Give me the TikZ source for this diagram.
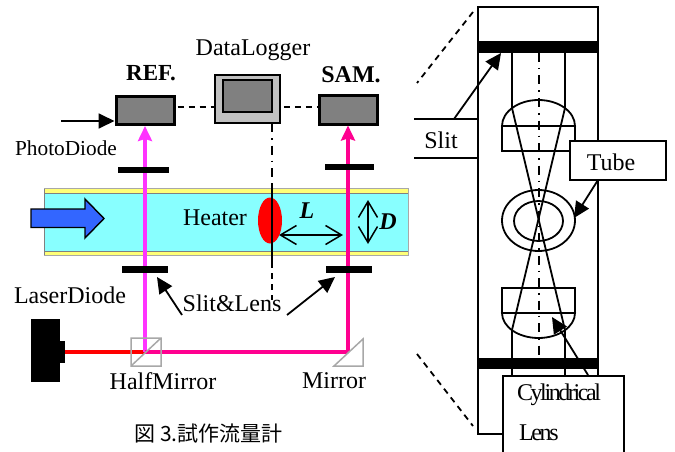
\documentclass[tikz,border=0pt]{standalone}
\usepackage{fontspec}
\setmainfont{Liberation Serif}
\newfontfamily\cjkfont{Noto Sans CJK JP}
\newfontfamily\tightfont[LetterSpace=-10]{Liberation Serif}
\usetikzlibrary{arrows.meta,shapes.geometric}
\definecolor{gray50x}{HTML}{808080}
\definecolor{graylight}{HTML}{C0C0C0}
\definecolor{graymirror}{HTML}{A8A8A8}
\definecolor{tubecyan}{HTML}{88FFFF}
\definecolor{tubewall}{HTML}{FFFF77}
\definecolor{flowblue}{HTML}{3366FF}
\definecolor{beamm}{HTML}{FF33FF}
\definecolor{beamp}{HTML}{FF0090}
\tikzset{
  x=1pt,y=-1pt,
  lbl/.style={inner sep=0pt,font=\fontsize{24}{24}\selectfont},
  lblb/.style={inner sep=0pt,font=\fontsize{24}{24}\selectfont\bfseries},
  lbli/.style={inner sep=0pt,font=\fontsize{24}{24}\selectfont\bfseries\itshape},
  detector/.style={draw=black,line width=3pt,fill=gray50x,inner sep=0pt},
  slitbar/.style={fill=black,draw=none,inner sep=0pt},
  wire/.style={draw=black,line width=1.8pt},
  dashwire/.style={draw=black,line width=1.8pt,dash pattern=on 6pt off 5pt},
  dashdot/.style={draw=black,line width=1.8pt,dash pattern=on 9pt off 6pt on 1.5pt off 6pt},
  pointer/.style={draw=black,line width=1.8pt,-{Triangle[length=16pt,width=15pt]}},
  openarr/.style={draw=black,line width=1.5pt,{Straight Barb[length=16pt,width=19pt]}-{Straight Barb[length=16pt,width=19pt]}},
  callout/.style={draw=black,line width=1.8pt,fill=white,inner sep=0pt},
  optic/.style={draw=graymirror,line width=1.5pt},
  part/.style={draw=black,line width=1.8pt},
  beamtip/.style={-{Stealth[length=15pt,width=14pt,inset=2pt]}},
}
\begin{document}
\begin{tikzpicture}
\useasboundingbox[clip] (0,0) rectangle (675,452);
% tube
\fill[tubewall,draw=graymirror,line width=.8pt] (44,188.5) rectangle (408,255);
\fill[tubecyan] (44,193) rectangle (408,251);
\draw[gray,line width=.8pt] (44,193) -- (408,193) (44,251) -- (408,251) (44,188.5) -- (44,255);
% flow arrow
\draw[black,line width=1.4pt,fill=flowblue] (31,209) -- (85,209) -- (85,199) -- (104,218.5) -- (85,238) -- (85,227.5) -- (31,227.5) -- cycle;
% nodes
\node[detector,minimum width=58pt,minimum height=28pt] (ref) at (145,110.5) {};
\node[detector,minimum width=58pt,minimum height=28pt] (sam) at (348,110) {};
\node[draw=black,line width=1.8pt,fill=graylight,minimum width=65pt,minimum height=48pt,inner sep=0pt] (logger) at (247.5,99) {};
\node[draw=black,line width=1.8pt,fill=gray50x,minimum width=49pt,minimum height=32pt,inner sep=0pt] (screen) at (247.5,96) {};
\coordinate (logfoot) at (272,123);
\coordinate (h1) at (272,183);
\coordinate (h2) at (272,262);
\coordinate (h3) at (272,300);
% heater
\node[draw=none,fill=red,ellipse,minimum width=24pt,minimum height=46pt,inner sep=0pt] (heater) at (270,220.5) {};
\draw[dashwire] (ref.east |- 0,107) ++(2,0) -- (logger.west |- 0,107);
\draw[dashwire] (logger.east |- 0,107) ++(3,0) -- (sam.west |- 0,107);
\draw[dashdot] (logfoot) -- (h1);
\draw[wire] (h1) -- (h2);
\draw[dashwire] (h2) -- (h3);
% beams
\coordinate (hm) at (145,352);
\coordinate (mm) at (348,352);
\coordinate (ld) at (65,352);
\draw[red,line width=3.6pt] (ld) -- (hm);
\draw[beamm,line width=3.2pt,beamtip] (hm) -- (ref.south);
\draw[beamp,line width=3.6pt] (hm) -- (mm);
\draw[beamp,line width=3.2pt,beamtip] (mm) -- (sam.south);
% slits
\node[slitbar,minimum width=51pt,minimum height=6pt] (s1) at (143.5,170) {};
\node[slitbar,minimum width=49pt,minimum height=6pt] (s2) at (349.5,167) {};
\node[slitbar,minimum width=46pt,minimum height=7pt] (s3) at (145,269.5) {};
\node[slitbar,minimum width=46pt,minimum height=7pt] (s4) at (349,269.5) {};
% optics
\draw[optic] (131,338) rectangle (161,366) (131,366) -- (161,338);
\draw[optic] (334,366) -- (363,339) -- (363,366) -- cycle;
% laser
\fill[black] (31,319) rectangle (60,382);
\fill[black] (60,341) rectangle (65,363);
% L D
\coordinate (la) at (279,235);
\coordinate (lb) at (343,235);
\coordinate (da) at (368,200);
\coordinate (db) at (368,244);
\draw[openarr] (la) -- (lb);
\draw[openarr] (da) -- (db);
% labels
\node[lbl] (tdl) at (253,50) {DataLogger};
\node[lblb,font=\fontsize{23}{23}\selectfont\bfseries] (tref) at (151,73) {REF.};
\node[lblb] (tsam) at (351,75) {SAM.};
\node[lbl,font=\fontsize{21.3}{22}\selectfont] (tpd) at (66,148) {PhotoDiode};
\node[lbl] (the) at (215,218) {Heater};
\node[lbli] (tl) at (307,211) {L};
\node[lbli] (td) at (388,222) {D};
\node[lbl] (tsl) at (232,303) {Slit\&Lens};
\node[lbl] (tld) at (70,295) {LaserDiode};
\node[lbl] (thm) at (163,381) {HalfMirror};
\node[lbl] (tm) at (334,381) {Mirror};
\node[inner sep=0pt,font=\fontsize{21}{22}\cjkfont] (cap) at (208.5,434) {図 3.試作流量計};
\coordinate (pd) at (61,121);
\draw[pointer] (pd) -- (ref.west |- pd);
\coordinate (p1) at (182,315);
\coordinate (p2) at (287,315);
\coordinate (p1t) at (157,277);
\coordinate (p2t) at (335,277);
\draw[pointer] (p1) -- (p1t);
\draw[pointer] (p2) -- (p2t);
% right panel
\node[draw=black,line width=1.8pt,minimum width=120pt,minimum height=427pt,inner sep=0pt] (panel) at (538,220.5) {};
\node[slitbar,minimum width=120pt,minimum height=12pt] (bt) at (538,47) {};
\node[slitbar,minimum width=120pt,minimum height=11pt] (bb) at (538,363.5) {};
\coordinate (dt1) at (473,12);
\coordinate (dt2) at (417,83);
\coordinate (db1) at (417,354);
\coordinate (db2) at (473,426);
\draw[dashwire] (dt1) -- (dt2);
\draw[dashwire] (db1) -- (db2);
% centre line
\draw[dashdot] (539,53) -- (539,358);
% lenses
\draw[part] (502,126) arc[start angle=180,end angle=360,x radius=36.5,y radius=26] -- cycle;
\draw[part] (502,126) rectangle (575,151);
\draw[part] (502,313) arc[start angle=180,end angle=0,x radius=36.5,y radius=25] -- cycle;
\draw[part] (502,288) rectangle (575,313);
% tube section
\draw[part] (538.5,220.5) ellipse[x radius=36.5,y radius=30.5];
\draw[part] (538.5,221) ellipse[x radius=24.5,y radius=20];
% rays
\draw[part] (512,53) -- (512,108) -- (565,330) -- (565,376);
\draw[part] (565,53) -- (565,108) -- (512,330) -- (512,376);
% callouts
\fill[white] (414,119) rectangle (477,158);
\draw[part] (414,119) -- (478,119) (414,158) -- (478,158);
\node[lbl] (tslit) at (441,140) {Slit};
\coordinate (sa) at (454,119);
\coordinate (sb) at (501,53);
\draw[pointer] (sa) -- (sb);
\node[callout,minimum width=96pt,minimum height=39pt] (tube) at (618,160.5) {};
\node[lbl] (ttube) at (611,162) {Tube};
\coordinate (ta) at (598,180);
\coordinate (tb) at (574,218);
\draw[pointer] (ta) -- (tb);
\node[callout,minimum width=121pt,minimum height=90pt,anchor=north west] (cyl) at (502,375) {};
\node[inner sep=0pt,font=\fontsize{24}{24}\tightfont] (tcyl) at (559,395) {Cylindrical};
\node[inner sep=0pt,font=\fontsize{24}{24}\tightfont,anchor=west] (tlens) at (519,433) {Lens};
\coordinate (ca) at (588,375);
\coordinate (cb) at (552,317);
\draw[pointer] (ca) -- (cb);
\end{tikzpicture}
\end{document}
